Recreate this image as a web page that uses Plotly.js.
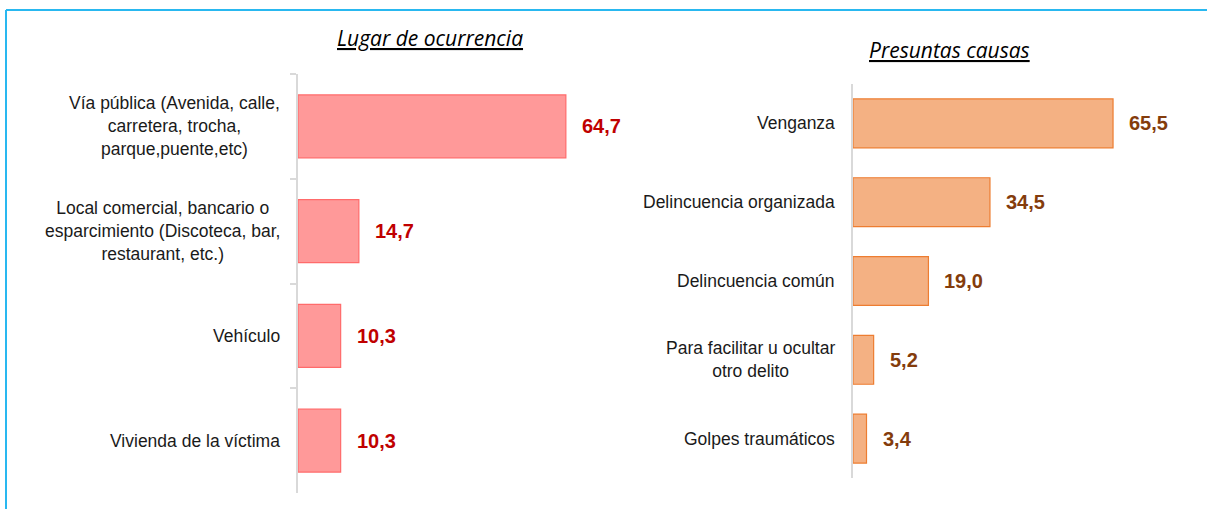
<!DOCTYPE html>
<html>
<head>
<meta charset="utf-8">
<script src="https://cdn.plot.ly/plotly-3.0.1.min.js"></script>
<style>html,body{margin:0;padding:0;background:#fff;}#chart{width:1207px;height:509px;}</style>
</head>
<body>
<div id="chart"></div>
<script>
// Data
const lugarTitle = "Lugar de ocurrencia";
const lugarCategories = [
  "Vía pública (Avenida, calle,<br>carretera, trocha,<br>parque,puente,etc)",
  "Local comercial, bancario o<br>esparcimiento (Discoteca, bar,<br>restaurant, etc.)",
  "Vehículo",
  "Vivienda de la víctima"
];
const lugarValues = [64.7, 14.7, 10.3, 10.3];

const causasTitle = "Presuntas causas";
const causasCategories = [
  "Venganza",
  "Delincuencia organizada",
  "Delincuencia común",
  "Para facilitar u ocultar<br>otro delito",
  "Golpes traumáticos"
];
const causasValues = [65.5, 34.5, 19.0, 5.2, 3.4];

const W = 1207, H = 509;
const px = v => v / W;
const py = v => 1 - v / H;

const catFont = {family: "'Liberation Sans Narrow', 'Arial Narrow', 'Liberation Sans', Arial, sans-serif", size: 17.5, color: "#1a1a1a"};
const valFontBase = {family: "'Liberation Sans Narrow', 'Arial Narrow', 'Liberation Sans', Arial, sans-serif", size: 20};
const titleFont = {family: "'Open Sans', 'DejaVu Sans', sans-serif", size: 21, color: "#000"};

const traces = [
  {
    type: "bar", orientation: "h",
    y: lugarCategories, x: lugarValues,
    xaxis: "x", yaxis: "y", width: 0.6,
    marker: {color: "#FF9999", line: {color: "#FF6B6B", width: 1.2}},
    hoverinfo: "skip"
  },
  {
    type: "bar", orientation: "h",
    y: causasCategories, x: causasValues,
    xaxis: "x2", yaxis: "y2", width: 0.62,
    marker: {color: "#F4B183", line: {color: "#ED7D31", width: 1.2}},
    hoverinfo: "skip"
  }
];

const annotations = [];
lugarCategories.forEach((c, i) => {
  annotations.push({xref: "x domain", yref: "y", x: 0, y: c, xanchor: "right", yanchor: "middle",
    xshift: -16, text: c, showarrow: false, align: "center", font: catFont});
  annotations.push({xref: "x", yref: "y", x: lugarValues[i], y: c, xanchor: "left", yanchor: "middle",
    xshift: 14, text: "<b>" + lugarValues[i].toFixed(1).replace(".", ",") + "</b>", showarrow: false,
    font: Object.assign({}, valFontBase, {color: "#C00000"})});
});
causasCategories.forEach((c, i) => {
  annotations.push({xref: "x2 domain", yref: "y2", x: 0, y: c, xanchor: "right", yanchor: "middle",
    xshift: -16, text: c, showarrow: false, align: "center", font: catFont});
  annotations.push({xref: "x2", yref: "y2", x: causasValues[i], y: c, xanchor: "left", yanchor: "middle",
    xshift: 14, text: "<b>" + causasValues[i].toFixed(1).replace(".", ",") + "</b>", showarrow: false,
    font: Object.assign({}, valFontBase, {color: "#843C0C"})});
});
annotations.push({xref: "paper", yref: "paper", x: px(430), y: py(38), xanchor: "center", yanchor: "middle",
  text: "<i><u>" + lugarTitle + "</u></i>", showarrow: false, font: titleFont});
annotations.push({xref: "paper", yref: "paper", x: px(949), y: py(50), xanchor: "center", yanchor: "middle",
  text: "<i><u>" + causasTitle + "</u></i>", showarrow: false, font: titleFont});

const layout = {
  width: W, height: H,
  margin: {l: 0, r: 0, t: 0, b: 0},
  paper_bgcolor: "#fff", plot_bgcolor: "rgba(0,0,0,0)",
  showlegend: false,
  separators: ",.",
  xaxis: {domain: [px(298), px(700)], range: [0, (700 - 298) / 4.14], visible: false, fixedrange: true},
  yaxis: {domain: [py(493), py(74)], type: "category", autorange: "reversed", anchor: "x",
    showticklabels: false, showline: true, linecolor: "#D9D9D9", linewidth: 2,
    ticks: "outside", tickson: "boundaries", ticklen: 6, tickcolor: "#D9D9D9", tickwidth: 2,
    showgrid: false, zeroline: false, fixedrange: true},
  xaxis2: {domain: [px(853), px(1190)], range: [0, (1190 - 853) / 3.97], visible: false, fixedrange: true},
  yaxis2: {domain: [py(478), py(84)], type: "category", autorange: "reversed", anchor: "x2",
    showticklabels: false, showline: true, linecolor: "#D9D9D9", linewidth: 2,
    ticks: "", showgrid: false, zeroline: false, fixedrange: true},
  annotations: annotations,
  shapes: [
    {type: "line", xref: "paper", yref: "paper", x0: px(6), x1: 1.01, y0: py(10), y1: py(10),
      line: {color: "#29B8F0", width: 2}},
    {type: "line", xref: "paper", yref: "paper", x0: px(6), x1: px(6), y0: py(10), y1: -0.01,
      line: {color: "#29B8F0", width: 2}}
  ]
};

Plotly.newPlot("chart", traces, layout, {displayModeBar: false, staticPlot: true});
</script>
</body>
</html>
